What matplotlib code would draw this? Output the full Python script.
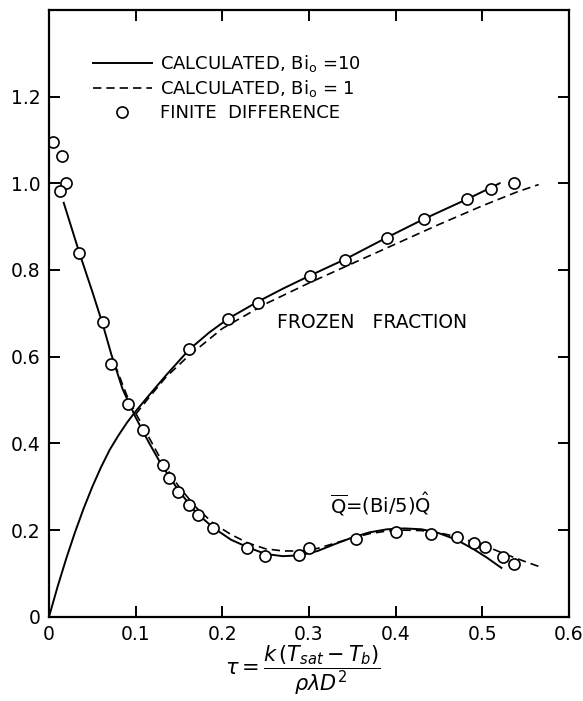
import numpy as np
import matplotlib
matplotlib.use("Agg")
import matplotlib.pyplot as plt
from matplotlib.lines import Line2D

plt.rcParams['font.family'] = ['DejaVu Sans']
plt.rcParams['mathtext.fontset'] = 'dejavusans'

# Q-bar curves (Bi0 = 10 solid, Bi0 = 1 dashed)
q10_tau = [0.017, 0.035, 0.05, 0.062, 0.072, 0.085, 0.1, 0.115, 0.13, 0.15, 0.17,
           0.19, 0.21, 0.23, 0.25, 0.27, 0.29, 0.31, 0.33, 0.35, 0.37, 0.39, 0.41,
           0.43, 0.45, 0.47, 0.49, 0.505, 0.522]
q10 = [0.955, 0.84, 0.75, 0.675, 0.605, 0.525, 0.46, 0.403, 0.35, 0.29, 0.24,
       0.205, 0.178, 0.16, 0.145, 0.14, 0.142, 0.152, 0.168, 0.183, 0.195, 0.202,
       0.204, 0.202, 0.193, 0.178, 0.156, 0.137, 0.113]

q1_tau = [0.076, 0.09, 0.1, 0.115, 0.13, 0.15, 0.17, 0.19, 0.21, 0.23, 0.25, 0.27,
          0.29, 0.31, 0.33, 0.35, 0.37, 0.39, 0.41, 0.43, 0.45, 0.47, 0.49, 0.51,
          0.53, 0.55, 0.567]
q1 = [0.582, 0.51, 0.47, 0.415, 0.36, 0.30, 0.252, 0.215, 0.19, 0.17, 0.157, 0.152,
      0.152, 0.158, 0.17, 0.182, 0.192, 0.198, 0.2, 0.199, 0.194, 0.185, 0.172,
      0.158, 0.142, 0.127, 0.115]

# frozen fraction curves
f10_tau = [0, 0.01, 0.02, 0.03, 0.04, 0.05, 0.06, 0.07, 0.08, 0.09, 0.1, 0.115,
           0.135, 0.162, 0.185, 0.207, 0.241, 0.27, 0.301, 0.342, 0.39, 0.433,
           0.482, 0.51, 0.52]
f10 = [0, 0.07, 0.135, 0.195, 0.25, 0.3, 0.345, 0.385, 0.418, 0.448, 0.474, 0.51,
       0.557, 0.617, 0.656, 0.688, 0.727, 0.757, 0.787, 0.825, 0.875, 0.918,
       0.963, 0.99, 1.0]

f1_tau = [0.1, 0.115, 0.135, 0.16, 0.2, 0.25, 0.3, 0.35, 0.4, 0.45, 0.5, 0.54, 0.565]
f1 = [0.467, 0.505, 0.553, 0.6, 0.665, 0.722, 0.77, 0.815, 0.86, 0.905, 0.948,
      0.98, 0.997]

# finite difference points
fd_q_tau = [0.005, 0.015, 0.02, 0.013, 0.035, 0.062, 0.072, 0.091, 0.109, 0.131,
            0.139, 0.149, 0.162, 0.172, 0.189, 0.228, 0.249, 0.289, 0.30, 0.354,
            0.40, 0.441, 0.471, 0.49, 0.503, 0.524, 0.536]
fd_q = [1.095, 1.062, 1.0, 0.983, 0.84, 0.681, 0.584, 0.49, 0.43, 0.351, 0.321,
        0.287, 0.259, 0.235, 0.206, 0.16, 0.141, 0.143, 0.16, 0.18, 0.195, 0.19,
        0.185, 0.17, 0.162, 0.139, 0.122]

fd_f_tau = [0.162, 0.207, 0.241, 0.301, 0.342, 0.39, 0.433, 0.482, 0.51, 0.537]
fd_f = [0.617, 0.688, 0.725, 0.787, 0.822, 0.873, 0.917, 0.963, 0.986, 1.0]

xticks = [0, 0.1, 0.2, 0.3, 0.4, 0.5, 0.6]
xtick_labels = ['0', '0.1', '0.2', '0.3', '0.4', '0.5', '0.6']
yticks = [0, 0.2, 0.4, 0.6, 0.8, 1.0, 1.2]
ytick_labels = ['0', '0.2', '0.4', '0.6', '0.8', '1.0', '1.2']

fig = plt.figure(figsize=(5.83, 7.01), dpi=100)
ax = fig.add_axes([0.084, 0.12, 0.892, 0.866])

ax.plot(q10_tau, q10, color='black', lw=1.4)
ax.plot(q1_tau, q1, color='black', lw=1.2, ls=(0, (5, 3)))
ax.plot(f10_tau, f10, color='black', lw=1.4)
ax.plot(f1_tau, f1, color='black', lw=1.2, ls=(0, (5, 3)))

ax.plot(fd_q_tau, fd_q, 'o', ms=8, mfc='white', mec='black', mew=1.2)
ax.plot(fd_f_tau, fd_f, 'o', ms=8, mfc='white', mec='black', mew=1.2)

ax.set_xlim(0, 0.6)
ax.set_ylim(0, 1.4)
ax.set_xticks(xticks)
ax.set_xticklabels(xtick_labels)
ax.set_yticks(yticks)
ax.set_yticklabels(ytick_labels)
ax.tick_params(direction='in', length=8, width=1.4, labelsize=13.5,
               top=True, right=True, pad=6)
for s in ax.spines.values():
    s.set_linewidth(1.6)

ax.text(0.373, 0.68, 'FROZEN   FRACTION', fontsize=13.5, ha='center', va='center')
ax.text(0.383, 0.26, r'$\overline{\mathrm{Q}}$=(Bi/5)$\hat{\mathrm{Q}}$',
        fontsize=14, ha='center', va='center')

handles = [
    Line2D([], [], color='black', lw=1.4),
    Line2D([], [], color='black', lw=1.2, ls=(0, (5, 3))),
    Line2D([], [], ls='none', marker='o', ms=8, mfc='white', mec='black', mew=1.2),
]
labels = [r'CALCULATED, Bi$_\mathrm{o}$ =10',
          r'CALCULATED, Bi$_\mathrm{o}$ = 1',
          'FINITE  DIFFERENCE']
ax.legend(handles, labels, loc='upper left', bbox_to_anchor=(0.07, 0.941),
          frameon=False, fontsize=13, handlelength=3.3, handletextpad=0.45,
          labelspacing=0.25, borderaxespad=0)

fig.text(0.52, 0.044, r'$\tau = \dfrac{k\,(T_{sat} - T_b)}{\rho\lambda D^2}$',
         fontsize=15, ha='center', va='center')

fig.savefig('out.png', dpi=100)
